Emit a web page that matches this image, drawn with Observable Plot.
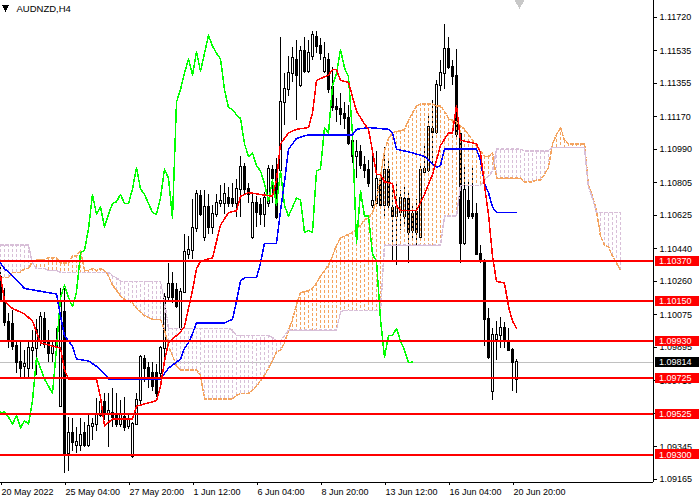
<!DOCTYPE html>
<html>
<head>
<meta charset="utf-8">
<script src="https://cdn.jsdelivr.net/npm/d3@7"></script>
<script src="https://cdn.jsdelivr.net/npm/@observablehq/plot@0.6"></script>
<style>
  body { margin: 0; background: #fff; }
  #chart svg { display: block; shape-rendering: crispEdges; }
</style>
</head>
<body>
<div id="chart"></div>
<script>
// AUDNZD H4 candles, bar 0 = 20 May 2022 12:00
const open = [1.1028,1.1015,1.1003,1.1002,1.0990,1.0981,1.0979,1.0978,1.0988,1.0989,
  1.0993,1.1005,1.0992,1.0986,1.0993,1.0957,1.1009,1.0931,1.0942,1.0935,
  1.0935,1.0942,1.0935,1.0946,1.0947,1.0952,1.0959,1.0953,1.0953,1.0952,
  1.0947,1.0951,1.0946,1.0929,1.0947,1.0960,1.0983,1.0978,1.0975,1.0975,
  1.0975,1.0989,1.1017,1.1024,1.1021,1.1000,1.1020,1.1041,1.1043,1.1055,
  1.1073,1.1050,1.1067,1.1056,1.1063,1.1069,1.1069,1.1072,1.1071,1.1069,
  1.1077,1.1089,1.1077,1.1050,1.1069,1.1068,1.1063,1.1069,1.1087,1.1087,
  1.1087,1.1125,1.1132,1.1141,1.1148,1.1134,1.1153,1.1142,1.1150,1.1161,
  1.1156,1.1142,1.1148,1.1133,1.1122,1.1121,1.1118,1.1116,1.1103,1.1095,
  1.1097,1.1090,1.1087,1.1068,1.1069,1.1082,1.1068,1.1087,1.1066,1.1062,
  1.1064,1.1062,1.1071,1.1063,1.1064,1.1050,1.1086,1.1087,1.1110,1.1108,
  1.1134,1.1141,1.1154,1.1144,1.1139,1.1107,1.1047,1.1070,1.1063,1.1063,
  1.1041,1.1037,1.1005,1.0965,1.0994,1.0996,1.1000,1.0993,1.0988,1.0972];
const high = [1.1034,1.1022,1.1008,1.1010,1.0993,1.0992,1.0988,1.0992,1.0999,1.1005,
  1.1009,1.1009,1.0999,1.0993,1.1000,1.1022,1.1022,1.0951,1.0950,1.0945,
  1.0950,1.0948,1.0952,1.0950,1.0961,1.0963,1.0964,1.0964,1.0967,1.0964,
  1.0960,1.0962,1.0953,1.0948,1.0964,1.0985,1.0985,1.0981,1.0981,1.0980,
  1.0990,1.1019,1.1036,1.1031,1.1025,1.1022,1.1052,1.1051,1.1071,1.1076,
  1.1076,1.1076,1.1074,1.1068,1.1074,1.1079,1.1080,1.1078,1.1080,1.1082,
  1.1095,1.1091,1.1080,1.1075,1.1073,1.1072,1.1075,1.1090,1.1090,1.1094,
  1.1161,1.1141,1.1150,1.1155,1.1159,1.1156,1.1161,1.1159,1.1164,1.1164,
  1.1160,1.1158,1.1152,1.1144,1.1127,1.1130,1.1125,1.1123,1.1106,1.1104,
  1.1101,1.1095,1.1093,1.1100,1.1098,1.1086,1.1100,1.1092,1.1076,1.1081,
  1.1076,1.1079,1.1076,1.1068,1.1071,1.1090,1.1101,1.1118,1.1126,1.1137,
  1.1148,1.1168,1.1161,1.1148,1.1154,1.1109,1.1089,1.1081,1.1089,1.1069,
  1.1046,1.1038,1.1011,1.1000,1.1004,1.1006,1.1003,1.1000,1.0989,1.0983];
const low = [1.1015,1.1001,1.0989,1.0988,1.0975,1.0973,1.0973,1.0973,1.0977,1.0974,
  1.0990,1.0989,1.0981,1.0981,1.0989,1.0957,1.0920,1.0921,1.0932,1.0931,
  1.0932,1.0934,1.0934,1.0938,1.0943,1.0951,1.0949,1.0934,1.0945,1.0945,
  1.0945,1.0943,1.0944,1.0928,1.0947,1.0958,1.0970,1.0967,1.0965,1.0962,
  1.0973,1.0982,1.1015,1.1014,1.1011,1.0999,1.1019,1.1038,1.1038,1.1053,
  1.1062,1.1048,1.1052,1.1052,1.1061,1.1067,1.1063,1.1067,1.1067,1.1061,
  1.1061,1.1074,1.1069,1.1049,1.1056,1.1057,1.1056,1.1067,1.1069,1.1060,
  1.1086,1.1112,1.1128,1.1136,1.1115,1.1133,1.1141,1.1141,1.1148,1.1152,
  1.1148,1.1141,1.1130,1.1120,1.1114,1.1112,1.1110,1.1101,1.1091,1.1083,
  1.1088,1.1083,1.1078,1.1066,1.1067,1.1066,1.1060,1.1065,1.1037,1.1035,
  1.1054,1.1057,1.1036,1.1049,1.1046,1.1048,1.1084,1.1086,1.1090,1.1107,
  1.1131,1.1132,1.1143,1.1134,1.1105,1.1036,1.1046,1.1060,1.1060,1.1040,
  1.1036,1.0990,1.0983,1.0960,1.0982,1.0989,1.0989,1.0987,1.0965,1.0964];
const close = [1.1016,1.1003,1.0993,1.0990,1.0981,1.0978,1.0980,1.0989,1.0989,1.0999,
  1.1006,1.0991,1.0986,1.0990,1.0990,1.1015,1.0930,1.0942,1.0937,1.0937,
  1.0941,1.0935,1.0946,1.0947,1.0952,1.0959,1.0953,1.0954,1.0951,1.0947,
  1.0952,1.0945,1.0949,1.0947,1.0960,1.0984,1.0978,1.0972,1.0968,1.0964,
  1.0989,1.1017,1.1024,1.1017,1.1012,1.1020,1.1042,1.1043,1.1055,1.1074,
  1.1063,1.1067,1.1056,1.1063,1.1069,1.1070,1.1074,1.1069,1.1069,1.1077,
  1.1089,1.1077,1.1074,1.1069,1.1064,1.1063,1.1072,1.1088,1.1083,1.1061,
  1.1125,1.1132,1.1141,1.1149,1.1140,1.1153,1.1142,1.1152,1.1162,1.1156,
  1.1152,1.1149,1.1132,1.1122,1.1121,1.1118,1.1116,1.1102,1.1095,1.1097,
  1.1090,1.1087,1.1080,1.1070,1.1082,1.1068,1.1087,1.1068,1.1062,1.1067,
  1.1072,1.1071,1.1053,1.1054,1.1053,1.1087,1.1088,1.1111,1.1108,1.1134,
  1.1141,1.1154,1.1144,1.1139,1.1107,1.1047,1.1076,1.1062,1.1062,1.1041,
  1.1037,1.1005,1.0984,1.0996,1.0996,1.1000,1.0993,1.0988,1.0981,1.09814];

// Ichimoku cloud, one value per bar (26 bars ahead of price)
const senkouA = [1.1028,1.1028,1.1028,1.1031,1.1031,1.1031,1.1033,1.1033,1.1037,1.1038,
  1.1038,1.1038,1.1039,1.1039,1.1039,1.1036,1.1036,1.1036,1.1040,1.1040,
  1.1043,1.1032,1.1032,1.1033,1.1032,1.1033,1.1032,1.1029,1.1024,1.1021,
  1.1018,1.1016,1.1015,1.1014,1.1011,1.1009,1.1007,1.1006,1.1005,1.1005,
  1.1005,1.0999,1.0990,1.0985,1.0979,1.0977,1.0977,1.0977,1.0977,1.0977,
  1.0974,1.0961,1.0961,1.0961,1.0961,1.0961,1.0961,1.0961,1.0961,1.0963,
  1.0964,1.0964,1.0964,1.0966,1.0968,1.0971,1.0974,1.0978,1.0982,1.0987,
  1.0988,1.0992,1.0999,1.1005,1.1013,1.1020,1.1020,1.1021,1.1022,1.1025,
  1.1029,1.1032,1.1035,1.1040,1.1046,1.1050,1.1051,1.1052,1.1053,1.1055,
  1.1057,1.1060,1.1061,1.1064,1.1071,1.1084,1.1098,1.1105,1.1108,1.1109,
  1.1109,1.1110,1.1115,1.1119,1.1123,1.1124,1.1124,1.1124,1.1124,1.1123,
  1.1123,1.1120,1.1116,1.1115,1.1114,1.1112,1.1110,1.1107,1.1104,1.1101,
  1.1098,1.1095,1.1095,1.1097,1.1083,1.1083,1.1083,1.1083,1.1083,1.1083,
  1.1083,1.1081,1.1081,1.1081,1.1082,1.1082,1.1085,1.1089,1.1102,1.1107,
  1.1111,1.1104,1.1102,1.1102,1.1102,1.1102,1.1102,1.1079,1.1073,1.1065,
  1.1051,1.1046,1.1045,1.1040,1.1036,1.1032];
const senkouB = [1.1046,1.1046,1.1046,1.1046,1.1046,1.1046,1.1046,1.1046,1.1036,1.1033,
  1.1033,1.1033,1.1032,1.1032,1.1032,1.1031,1.1031,1.1031,1.1031,1.1031,
  1.1031,1.1031,1.1031,1.1031,1.1031,1.1031,1.1031,1.1031,1.1029,1.1028,
  1.1026,1.1026,1.1026,1.1026,1.1026,1.1026,1.1026,1.1026,1.1026,1.1026,
  1.1026,1.1015,1.1000,1.1000,1.1000,1.1000,1.1000,1.1000,1.1000,1.1000,
  1.1000,1.1000,1.1000,1.1000,1.1000,1.1000,1.1000,1.1000,1.0999,1.0996,
  1.0996,1.0996,1.0996,1.0996,1.0996,1.0996,1.0996,1.0996,1.0995,1.0993,
  1.0993,1.0996,1.0999,1.0999,1.0999,1.0999,1.0999,1.0999,1.0999,1.0999,
  1.0999,1.0999,1.0999,1.0999,1.0999,1.1009,1.1010,1.1010,1.1010,1.1010,
  1.1010,1.1010,1.1010,1.1010,1.1010,1.1010,1.1046,1.1046,1.1046,1.1046,
  1.1046,1.1046,1.1046,1.1046,1.1046,1.1046,1.1046,1.1046,1.1046,1.1046,
  1.1046,1.1062,1.1062,1.1062,1.1062,1.1079,1.1079,1.1079,1.1079,1.1079,
  1.1079,1.1082,1.1084,1.1087,1.1099,1.1099,1.1099,1.1099,1.1099,1.1099,
  1.1099,1.1098,1.1098,1.1098,1.1098,1.1098,1.1098,1.1098,1.1100,1.1100,
  1.1100,1.1100,1.1100,1.1100,1.1100,1.1100,1.1100,1.1078,1.1072,1.1064,
  1.1064,1.1064,1.1064,1.1064,1.1064,1.1064];

// Tenkan-sen and Kijun-sen, read at the bars where the line turns
const tenkanBars = [0,1,3,6,8,9,10,15,16,17,24,25,26,28,33,34,39,40,41,42,
  45,46,47,48,49,50,53,54,55,57,59,60,62,68,69,70,72,74,77,78,
  79,82,83,84,85,87,88,89,91,92,93,94,95,96,98,99,100,104,106,108,
  110,112,113,114,115,119,120,121,122,123,124,126,127,128,129];
const tenkanValues = [1.1029,1.1015,1.1011,1.1008,1.1004,1.0998,1.0992,1.0989,1.0977,1.0972,
  1.0972,1.0962,1.0946,1.0950,1.0950,1.0957,1.0960,1.0968,1.0982,1.0992,
  1.0998,1.1001,1.1011,1.1021,1.1033,1.1037,1.1039,1.1048,1.1057,1.1064,
  1.1065,1.1073,1.1075,1.1073,1.1082,1.1102,1.1108,1.1110,1.1111,1.1119,
  1.1137,1.1140,1.1143,1.1143,1.1137,1.1136,1.1128,1.1120,1.1113,1.1110,
  1.1098,1.1085,1.1085,1.1081,1.1080,1.1068,1.1065,1.1065,1.1074,1.1085,
  1.1101,1.1108,1.1108,1.1123,1.1104,1.1102,1.1097,1.1079,1.1063,1.1040,
  1.1026,1.1025,1.1012,1.1004,1.1000];
const kijunBars = [0,1,3,6,14,15,16,18,19,22,24,26,27,40,42,45,46,47,48,49,
  56,58,59,60,61,64,65,66,69,70,71,72,74,77,88,89,92,97,98,99,
  103,106,109,110,111,119,120,121,122,123,124,129];
const kijunValues = [1.1036,1.1033,1.1029,1.1022,1.1019,1.1007,1.0996,1.0990,1.0983,1.0982,
  1.0979,1.0975,1.0972,1.0972,1.0978,1.0983,1.0989,1.0992,1.0997,1.1003,
  1.1003,1.1005,1.1015,1.1026,1.1028,1.1028,1.1036,1.1047,1.1047,1.1065,
  1.1081,1.1099,1.1105,1.1107,1.1107,1.1110,1.1111,1.1110,1.1108,1.1099,
  1.1097,1.1095,1.1089,1.1090,1.1099,1.1099,1.1093,1.1080,1.1075,1.1067,
  1.1064,1.1064];
const chikouShift = 26;

const levels = [1.10370, 1.10150, 1.09930, 1.09725, 1.09525, 1.09300];
const bid = 1.09814;
const yTicks = [1.11720,1.11535,1.11355,1.11170,1.10990,1.10805,1.10625,1.10440,
  1.10260,1.10075,1.09895,1.09710,1.09530,1.09345,1.09165];
const xTickBars = [0,16,32,48,64,80,96,112,128];
const xTickLabels = ["20 May 2022","25 May 04:00","27 May 20:00","1 Jun 12:00","6 Jun 04:00",
  "8 Jun 20:00","13 Jun 12:00","16 Jun 04:00","20 Jun 20:00"];
const symbol = "AUDNZD,H4";

const W = 700, H = 500, MR = 47, MB = 18;
const FONT = "'Liberation Sans', Arial, sans-serif";
const SANDY = "#f4a460", THISTLE = "#d8bfd8";

const candles = close.map((c, i) => ({i, o: open[i], h: high[i], l: low[i], c}));
const cloud = senkouA.map((a, i) => ({i, a, b: senkouB[i]}));
const tenkan = tenkanBars.map((i, j) => ({i, v: tenkanValues[j]}));
const kijun = kijunBars.map((i, j) => ({i, v: kijunValues[j]}));

const chart = Plot.plot({
  width: W, height: H,
  marginLeft: 0, marginRight: MR, marginTop: 0, marginBottom: MB,
  style: {fontFamily: FONT, fontSize: "9px", color: "#000", background: "#fff"},
  x: {domain: [0, 163.25], axis: null, label: null},
  y: {domain: [1.09148, 1.11812], axis: null, label: null},
  marks: [
    Plot.ruleY([bid], {stroke: "#c0c0c0"}),
    // candles
    Plot.ruleX(candles, {x: "i", y1: "l", y2: "h", stroke: "#000"}),
    Plot.rect(candles, {
      x1: d => d.i - 0.25, x2: d => d.i + 0.25, y1: "o", y2: "c",
      fill: d => d.c >= d.o ? "#fff" : "#000", stroke: "#000",
      insetTop: -0.5, insetBottom: -0.5
    }),
    // cloud hatch + spans
    Plot.ruleX(cloud, {x: "i", y1: "a", y2: "b", stroke: d => d.a >= d.b ? SANDY : THISTLE, strokeDasharray: "3,2"}),
    Plot.line(cloud, {x: "i", y: "a", stroke: SANDY, strokeDasharray: "3,2"}),
    Plot.line(cloud, {x: "i", y: "b", stroke: THISTLE, strokeDasharray: "3,2"}),
    Plot.line(candles, {x: d => d.i - chikouShift, y: "c", stroke: "#00ff00", clip: true}),
    Plot.line(kijun, {x: "i", y: "v", stroke: "#0000ff"}),
    Plot.line(tenkan, {x: "i", y: "v", stroke: "#ff0000"}),
    Plot.ruleY(levels, {stroke: "#ff0000", strokeWidth: 2}),
    // axes
    Plot.ruleX([163.25], {stroke: "#000"}),
    Plot.ruleY([1.09148], {stroke: "#000"}),
    Plot.axisY(yTicks, {anchor: "right", label: null, tickSize: 3, tickPadding: 3, tickFormat: d => d.toFixed(5)}),
    Plot.axisX(xTickBars, {anchor: "bottom", label: null, tickSize: 3, tickPadding: 3, textAnchor: "start", dx: 1,
      tickFormat: d => xTickLabels[xTickBars.indexOf(d)]}),
    // header
    Plot.dot([symbol], {frameAnchor: "top-left", symbol: "triangle", rotate: 180, r: 2.6, fill: "#000", dx: 5, dy: 7}),
    Plot.text([symbol], {frameAnchor: "top-left", text: d => d, textAnchor: "start", lineAnchor: "middle",
      dx: 16, dy: 8, fill: "#000", fontSize: 9.5}),
    Plot.dot([close.length - 1], {x: d => d, frameAnchor: "top", symbol: "triangle", rotate: 180, r: 4,
      fill: "#c8c8c8", dx: 3, dy: 2})
  ]
});

// price tags on the right axis
const yScale = chart.scale("y");
const tags = d3.select(chart).append("g")
  .attr("font-family", FONT).attr("font-size", 9).attr("text-anchor", "start");
function tag(value, bg) {
  const py = yScale.apply(value);
  tags.append("rect").attr("x", W - MR + 2).attr("y", py - 5).attr("width", 44).attr("height", 10).attr("fill", bg);
  tags.append("text").attr("x", W - MR + 6).attr("y", py).attr("dy", "0.35em").attr("fill", "#fff")
    .text(value.toFixed(5));
}
levels.forEach(v => tag(v, "#ff0000"));
tag(bid, "#000");

document.querySelector("#chart").append(chart);
</script>
</body>
</html>
